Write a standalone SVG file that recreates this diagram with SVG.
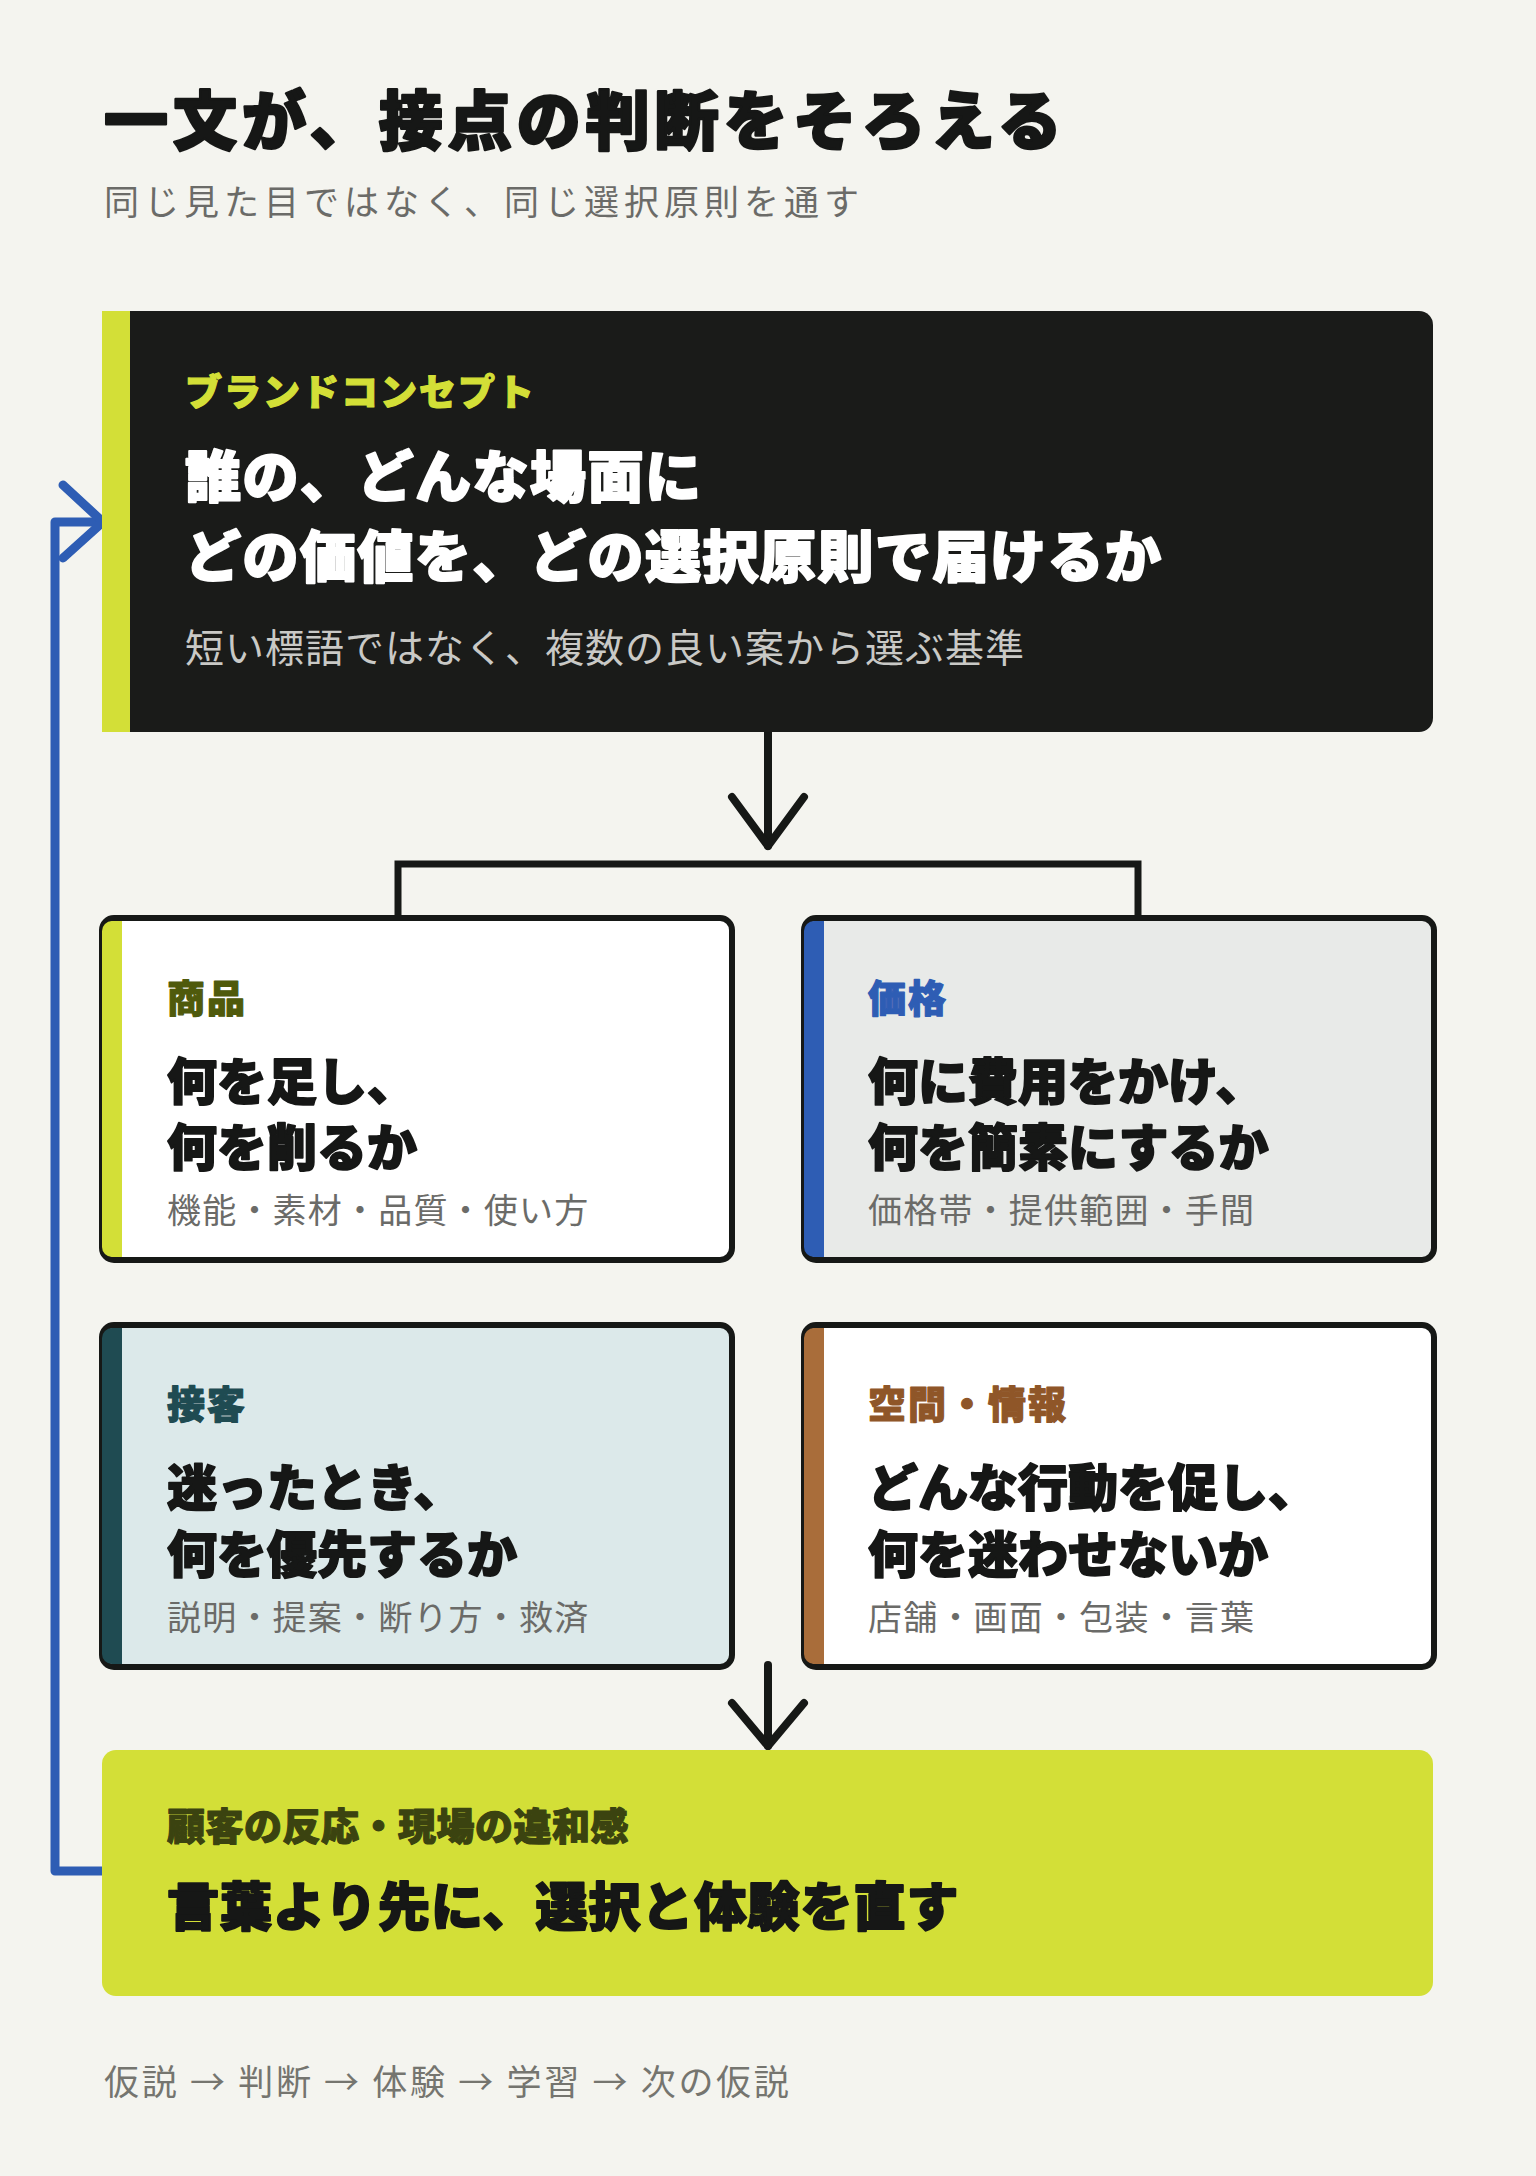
<svg xmlns="http://www.w3.org/2000/svg" width="1536" height="2176" viewBox="0 0 1536 2176">
<style>
text{font-family:'Noto Sans CJK JP','Noto Sans CJK SC',sans-serif;}
.h{font-weight:900;stroke-linejoin:round;}
.r{font-weight:400;}
.title{font-size:64px;letter-spacing:5px;fill:#161716;stroke:#161716;stroke-width:2.5px;}
.subtitle{font-size:35px;letter-spacing:5px;fill:#6b6b68;}
.dlabel{font-size:37px;letter-spacing:2px;fill:#d3df37;stroke:#d3df37;stroke-width:1.2px;}
.dmain{font-size:56px;letter-spacing:1.5px;fill:#ffffff;stroke:#ffffff;stroke-width:2px;}
.dsub{font-size:39px;letter-spacing:1px;fill:#c9c9c6;}
.blabel{font-size:38px;letter-spacing:2px;stroke-width:1.2px;}
.bmain{font-size:50px;fill:#161716;stroke:#161716;stroke-width:1.8px;}
.bsub{font-size:34px;letter-spacing:1.2px;fill:#6b6b68;}
.box{stroke:#161816;stroke-width:6;}
.conn{fill:none;stroke:#161816;stroke-width:8;stroke-linecap:round;stroke-linejoin:round;}
.bracket{fill:none;stroke:#161816;stroke-width:7;stroke-linejoin:miter;}
.fb{fill:none;stroke:#2e5db4;stroke-width:9;stroke-linecap:round;stroke-linejoin:round;}
</style>
<rect x="0" y="0" width="1536" height="2176" fill="#f4f4ef"/>

<g id="header">
<text class="h title" x="104" y="144">一文が、接点の判断をそろえる</text>
<text class="r subtitle" x="104" y="215">同じ見た目ではなく、同じ選択原則を通す</text>
</g>

<g id="connectors">
<path class="conn" d="M768,732 V846"/>
<path class="conn" d="M732,797 L768,846 L804,797"/>
<path class="bracket" d="M398,918 V864 H1138 V918"/>
<path class="conn" d="M768,1665 V1746"/>
<path class="conn" d="M732,1703 L768,1746 L804,1703"/>
<path class="fb" d="M102,1871 H55 V522 H100"/>
<path class="fb" d="M63,485 L103,522 L63,558"/>
</g>

<g id="concept">
<path d="M102,311 H1419 A14,14 0 0 1 1433,325 V718 A14,14 0 0 1 1419,732 H102 Z" fill="#1a1b19"/>
<rect x="102" y="311" width="28" height="421" fill="#d3df37"/>
<text class="h dlabel" x="185" y="406">ブランドコンセプト</text>
<text class="h dmain" x="185" y="497">誰の、どんな場面に</text>
<text class="h dmain" x="185" y="577">どの価値を、どの選択原則で届けるか</text>
<text class="r dsub" x="185" y="662">短い標語ではなく、複数の良い案から選ぶ基準</text>
</g>

<g id="product">
<rect class="box" x="102" y="918" width="630" height="342" rx="12" fill="#ffffff"/>
<path d="M122,921 H112 A10,10 0 0 0 102,931 V1247 A10,10 0 0 0 112,1257 H122 Z" fill="#d3df37"/>
<text class="h blabel" x="167" y="1012" fill="#4f5a0c" stroke="#4f5a0c">商品</text>
<text class="h bmain" x="167" y="1100">何を足し、</text>
<text class="h bmain" x="167" y="1166">何を削るか</text>
<text class="r bsub" x="167" y="1223">機能・素材・品質・使い方</text>
</g>

<g id="price">
<rect class="box" x="804" y="918" width="630" height="342" rx="12" fill="#e8eae8"/>
<path d="M824,921 H814 A10,10 0 0 0 804,931 V1247 A10,10 0 0 0 814,1257 H824 Z" fill="#2e5db4"/>
<text class="h blabel" x="868" y="1012" fill="#2e5db4" stroke="#2e5db4">価格</text>
<text class="h bmain" x="868" y="1100">何に費用をかけ、</text>
<text class="h bmain" x="868" y="1166">何を簡素にするか</text>
<text class="r bsub" x="868" y="1223">価格帯・提供範囲・手間</text>
</g>

<g id="service">
<rect class="box" x="102" y="1325" width="630" height="342" rx="12" fill="#dce9ea"/>
<path d="M122,1328 H112 A10,10 0 0 0 102,1338 V1654 A10,10 0 0 0 112,1664 H122 Z" fill="#1f4b52"/>
<text class="h blabel" x="167" y="1418" fill="#1f4b52" stroke="#1f4b52">接客</text>
<text class="h bmain" x="167" y="1506">迷ったとき、</text>
<text class="h bmain" x="167" y="1573">何を優先するか</text>
<text class="r bsub" x="167" y="1630">説明・提案・断り方・救済</text>
</g>

<g id="space">
<rect class="box" x="804" y="1325" width="630" height="342" rx="12" fill="#ffffff"/>
<path d="M824,1328 H814 A10,10 0 0 0 804,1338 V1654 A10,10 0 0 0 814,1664 H824 Z" fill="#a96d3a"/>
<text class="h blabel" x="868" y="1418" fill="#8f5628" stroke="#8f5628">空間・情報</text>
<text class="h bmain" x="868" y="1506">どんな行動を促し、</text>
<text class="h bmain" x="868" y="1573">何を迷わせないか</text>
<text class="r bsub" x="868" y="1630">店舗・画面・包装・言葉</text>
</g>

<g id="feedback">
<rect x="102" y="1750" width="1331" height="246" rx="14" fill="#d3df37"/>
<text class="h" x="167" y="1840" font-size="38" letter-spacing="0.5" fill="#3b4310" stroke="#3b4310" stroke-width="1.2">顧客の反応・現場の違和感</text>
<text class="h" x="167" y="1926" font-size="52" letter-spacing="1" fill="#161716" stroke="#161716" stroke-width="2">言葉より先に、選択と体験を直す</text>
</g>

<g id="footer">
<text class="r" x="104" y="2095" font-size="35" letter-spacing="2.7" fill="#75756f">仮説 → 判断 → 体験 → 学習 → 次の仮説</text>
</g>
</svg>
